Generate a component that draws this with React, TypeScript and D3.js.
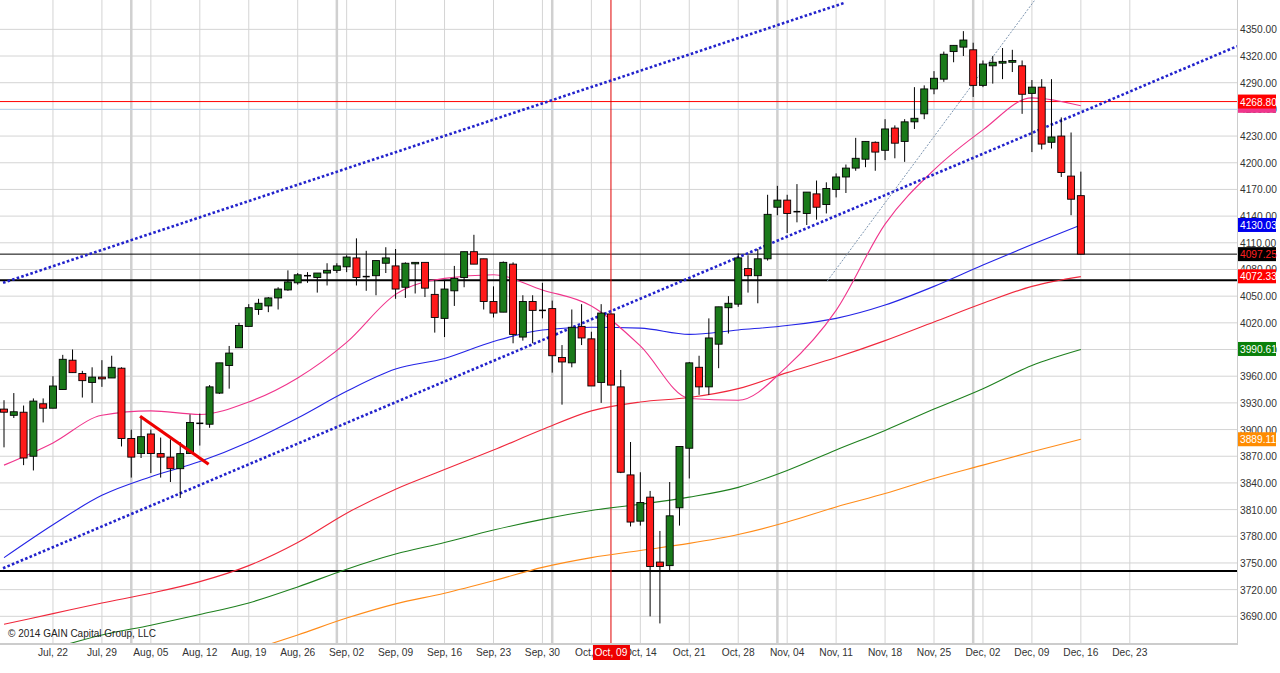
import React, { useMemo } from 'react';
import * as d3 from 'd3';

// daily candles, Jul 15 .. Dec 16 (weekdays)
const opens = [3923, 3916, 3919.5, 3870, 3929, 3924, 3945, 3978, 3963, 3953, 3959, 3958, 3969, 3890, 3873, 3895, 3873, 3869, 3856, 3873,
  3907, 3906, 3941, 3972, 3992, 4016, 4035, 4039, 4048, 4057, 4065, 4073, 4071, 4076, 4079, 4083, 4093, 4072, 4073, 4087,
  4084, 4060, 4087, 4088, 4052, 4025, 4056, 4071, 4100, 4092, 4044, 4032, 4086, 4004, 4044, 4034, 4036, 3981, 3975, 4016,
  4002, 3953, 4030, 3948, 3849, 3797, 3824, 3751, 3747, 3812, 3879, 3970, 3948, 3996, 4037, 4041, 4081, 4073, 4092, 4150,
  4158, 4145, 4143, 4165, 4153, 4170, 4184, 4194, 4204, 4223, 4214, 4239, 4224, 4246, 4255, 4283, 4294, 4325, 4330, 4327,
  4287, 4309, 4312, 4313, 4309, 4278, 4285, 4223, 4230, 4185, 4163];
const highs = [3933, 3941, 3927, 3935, 3935, 3960, 3984, 3990, 3966, 3970, 3978, 3983, 3970, 3900, 3914, 3900, 3891, 3889, 3886, 3917,
  3918, 3950, 3975, 3994, 4020, 4041, 4047, 4049, 4060, 4079, 4076, 4077, 4076, 4087, 4087, 4096, 4115, 4101, 4090, 4105,
  4103, 4088, 4088, 4088, 4068, 4068, 4084, 4100, 4119, 4092, 4061, 4089, 4088, 4051, 4051, 4065, 4045, 3995, 4035, 4041,
  4010, 4041, 4030, 3967, 3886, 3852, 3831, 3786, 3841, 3881, 3976, 3983, 4025, 4038, 4050, 4098, 4096, 4103, 4164, 4174,
  4164, 4176, 4167, 4180, 4178, 4188, 4198, 4228, 4224, 4224, 4249, 4242, 4249, 4285, 4287, 4303, 4325, 4332, 4348, 4335,
  4315, 4320, 4329, 4327, 4315, 4293, 4294, 4294, 4251, 4234, 4190];
const lows = [3880, 3913, 3860, 3854, 3908, 3924, 3945, 3964, 3936, 3930, 3948, 3958, 3881, 3846, 3868, 3851, 3846, 3841, 3823, 3873,
  3882, 3902, 3940, 3946, 3992, 4016, 4029, 4032, 4035, 4056, 4063, 4065, 4054, 4062, 4076, 4077, 4062, 4056, 4051, 4076,
  4047, 4048, 4053, 4049, 4009, 4004, 4039, 4060, 4086, 4035, 4026, 4032, 3997, 4000, 3997, 4025, 3964, 3928, 3970, 3995,
  3949, 3930, 3950, 3851, 3791, 3792, 3690, 3682, 3742, 3792, 3845, 3939, 3939, 3969, 4008, 4038, 4054, 4042, 4090, 4141,
  4121, 4133, 4130, 4136, 4143, 4161, 4166, 4191, 4195, 4191, 4203, 4205, 4201, 4238, 4249, 4277, 4291, 4313, 4320, 4274,
  4285, 4289, 4294, 4302, 4255, 4212, 4215, 4216, 4184, 4141, 4097];
const closes = [3919.5, 3920, 3868, 3932, 3924, 3949, 3979, 3964, 3955, 3959, 3957, 3970, 3890, 3869, 3892, 3873, 3869, 3856, 3873, 3908,
  3907, 3948, 3975, 3986, 4017, 4037, 4042, 4048, 4058, 4066, 4074, 4073, 4076, 4079, 4084, 4094, 4071, 4072, 4090, 4093,
  4058, 4087, 4088, 4059, 4026, 4058, 4070, 4100, 4086, 4044, 4031, 4088, 4007, 4044, 4034, 4034, 3983, 3976, 4015, 4003,
  3949, 4031, 3950, 3852, 3796, 3818, 3746, 3746, 3803, 3881, 3975, 3948, 4003, 4038, 4042, 4093, 4073, 4092, 4142, 4158,
  4143, 4145, 4167, 4150, 4171, 4184, 4194, 4205, 4224, 4212, 4238, 4222, 4246, 4250, 4283, 4295, 4322, 4332, 4338, 4287,
  4311, 4313, 4314, 4315, 4277, 4285, 4221, 4229, 4189, 4159, 4097.25];

// moving averages read every 5th bar
const maIdx = d3.range(0, 111, 5);
const ma20 = [3860, 3885, 3916, 3921, 3917, 3931, 3958, 3998, 4052, 4070, 4074, 4057, 4039, 3994, 3935, 3933, 3971, 4034, 4131, 4192, 4237, 4273, 4264];
const ma50 = [3756, 3793, 3826, 3847, 3864, 3886, 3913, 3943, 3968, 3980, 3999, 4012, 4015, 4014, 4007, 4012, 4017, 4025, 4040, 4061, 4085, 4108, 4130];
const ma100 = [3681, 3693, 3705, 3716, 3729, 3747, 3773, 3806, 3833, 3855, 3877, 3900, 3921, 3931, 3936, 3946, 3964, 3981, 4000, 4021, 4042, 4061, 4072];
const ma200 = [3638, 3654, 3669, 3680, 3692, 3705, 3723, 3743, 3760, 3773, 3787, 3799, 3809, 3816, 3824, 3835, 3854, 3877, 3899, 3923, 3946, 3972, 3990];
const maLong = [NaN, NaN, NaN, NaN, 3634, 3651, 3669, 3688, 3704, 3716, 3730, 3745, 3756, 3764, 3772, 3782, 3796, 3813, 3828, 3845, 3860, 3875, 3889];

// x axis
const tickIdx = d3.range(5, 116, 5);
const tickLabels = ['Jul, 22', 'Jul, 29', 'Aug, 05', 'Aug, 12', 'Aug, 19', 'Aug, 26', 'Sep, 02', 'Sep, 09', 'Sep, 16', 'Sep, 23', 'Sep, 30', 'Oct, 07',
  'Oct, 14', 'Oct, 21', 'Oct, 28', 'Nov, 04', 'Nov, 11', 'Nov, 18', 'Nov, 25', 'Dec, 02', 'Dec, 09', 'Dec, 16', 'Dec, 23'];
const monthIdx = [13, 34, 56, 79, 99];
const yTicks = d3.range(3690, 4351, 30);

// drawn lines [index, price]
const upperChannel = [[-0.1, 4065], [85.9, 4380]];
const lowerChannel = [[-0.1, 3744], [125.95, 4331]];
const steepLine = [[84.1, 4067], [105.3, 4383]];
const downLine = [[13.9, 3915], [20.9, 3861]];
const crossIdx = 62;
const crossLabel = 'Oct, 09';

const W = 1237;
const H = 643;

export default function App() {
  const x = useMemo(() => d3.scaleLinear().domain([-0.41, 125.95]).range([0, W]), []);
  const y = useMemo(() => d3.scaleLinear().domain([3660, 4383]).range([H, 0]), []);

  const maLine = d3.line<[number, number]>()
    .defined(d => !isNaN(d[1]))
    .x(d => x(d[0]))
    .y(d => y(d[1]))
    .curve(d3.curveMonotoneX);
  const seg = d3.line<number[]>().x(d => x(d[0])).y(d => y(d[1]));

  const mas = [
    { vals: maLong, color: '#ff8c1a' },
    { vals: ma200, color: '#1f801f' },
    { vals: ma100, color: '#f0283c' },
    { vals: ma50, color: '#2424e6' },
    { vals: ma20, color: '#f0358c' },
  ];

  const hLines = [
    { v: 4268.8, color: '#ff0000', w: 1 },
    { v: 4260, color: '#b8d4ee', w: 1 },
    { v: 4097.25, color: '#000', w: 1 },
    { v: 4068, color: '#000', w: 2 },
    { v: 3741, color: '#000', w: 2 },
  ];

  // the pink (20) box sits behind the red one, its text hidden
  const pinkBox = 4264;
  const boxes = [
    { v: 4268.8, bg: '#ff0000', fg: '#fff', text: '4268.80' },
    { v: 4130.03, bg: '#0000ee', fg: '#fff', text: '4130.03' },
    { v: 4097.25, bg: '#000', fg: '#ff2020', text: '4097.25' },
    { v: 4072.33, bg: '#ff0000', fg: '#fff', text: '4072.33' },
    { v: 3990.61, bg: '#0a800a', fg: '#fff', text: '3990.61' },
    { v: 3889.11, bg: '#ff8c00', fg: '#fff', text: '3889.11' },
  ];

  const font = '"Liberation Sans", Arial, sans-serif';
  const bw = 7;
  const fs = 10.2;

  return (
    <svg width={1280} height={673} style={{ position: 'absolute', left: 0, top: 0, background: '#fff' }} fontFamily={font}>
      <defs>
        <clipPath id="plot"><rect x={0} y={0} width={W} height={H} /></clipPath>
      </defs>
      {/* grid */}
      {yTicks.map(t => (
        <line key={'h' + t} x1={0} x2={W} y1={y(t)} y2={y(t)} stroke="#d4d4d4" strokeWidth={1} />
      ))}
      {tickIdx.map(i => (
        <line key={'v' + i} x1={x(i)} x2={x(i)} y1={0} y2={H} stroke="#d4d4d4" strokeWidth={1} />
      ))}
      {monthIdx.map(i => (
        <line key={'m' + i} x1={x(i)} x2={x(i)} y1={0} y2={H} stroke="#d0d0d0" strokeWidth={2.5} />
      ))}
      <line x1={0} x2={W} y1={H + 1} y2={H + 1} stroke="#cccccc" strokeWidth={2} />
      <line x1={W + 0.5} x2={W + 0.5} y1={0} y2={H + 2} stroke="#cccccc" strokeWidth={1} />

      <g clipPath="url(#plot)">
        {hLines.map((l, i) => (
          <line key={'hl' + i} x1={0} x2={W} y1={y(l.v)} y2={y(l.v)} stroke={l.color} strokeWidth={l.w} />
        ))}
        <line x1={x(crossIdx)} x2={x(crossIdx)} y1={0} y2={H} stroke="#e00000" strokeWidth={1} />

        {mas.map((m, k) => (
          <path key={'ma' + k} d={maLine(maIdx.map((i, j) => [i, m.vals[j]] as [number, number])) || ''}
            fill="none" stroke={m.color} strokeWidth={1.1} />
        ))}

        <path d={seg(upperChannel) || ''} stroke="#2222cc" strokeWidth={2.6} strokeDasharray="2.6 2.2" fill="none" />
        <path d={seg(lowerChannel) || ''} stroke="#2222cc" strokeWidth={2.6} strokeDasharray="2.6 2.2" fill="none" />
        <path d={seg(steepLine) || ''} stroke="#7d95b0" strokeWidth={1} strokeDasharray="2 1.5" fill="none" />

        {opens.map((o, i) => {
          const c = closes[i];
          const cx = x(i);
          const top = y(Math.max(o, c));
          const bot = y(Math.min(o, c));
          const up = c > o;
          return (
            <g key={'c' + i}>
              <line x1={cx} x2={cx} y1={y(highs[i])} y2={y(lows[i])} stroke="#000" strokeWidth={1} />
              {o === c ? (
                <line x1={cx - bw / 2} x2={cx + bw / 2} y1={top} y2={top} stroke="#000" strokeWidth={1.5} />
              ) : (
                <rect x={cx - bw / 2} y={top} width={bw} height={Math.max(bot - top, 1.5)}
                  fill={up ? '#1a7a1a' : '#ff1a1a'} stroke="#000" strokeWidth={0.9} />
              )}
            </g>
          );
        })}

        <path d={seg(downLine) || ''} stroke="#ee0000" strokeWidth={3.2} fill="none" />
      </g>

      {/* right axis */}
      {yTicks.map(t => (
        <text key={'yl' + t} x={W + 3} y={y(t) + 4} fontSize={fs} fill="#333">{t.toFixed(2)}</text>
      ))}
      <rect x={W + 1} y={y(pinkBox) - 7} width={38} height={14} fill="#f0358c" />
      {boxes.map((b, i) => (
        <g key={'b' + i}>
          <rect x={W + 1} y={y(b.v) - 7} width={38} height={14} fill={b.bg} />
          <text x={W + 3} y={y(b.v) + 4} fontSize={fs} fill={b.fg}>{b.text}</text>
        </g>
      ))}

      {/* bottom axis */}
      {tickIdx.map((i, k) => (
        <text key={'xl' + i} x={x(i)} y={656} fontSize={fs} fill="#333" textAnchor="middle">{tickLabels[k]}</text>
      ))}
      <rect x={x(crossIdx) - 18} y={645} width={37} height={15} fill="#ee0000" />
      <text x={x(crossIdx)} y={656} fontSize={fs} fill="#fff" textAnchor="middle">{crossLabel}</text>

      <text x={8} y={637} fontSize={10} fill="#222">© 2014 GAIN Capital Group, LLC</text>
    </svg>
  );
}
